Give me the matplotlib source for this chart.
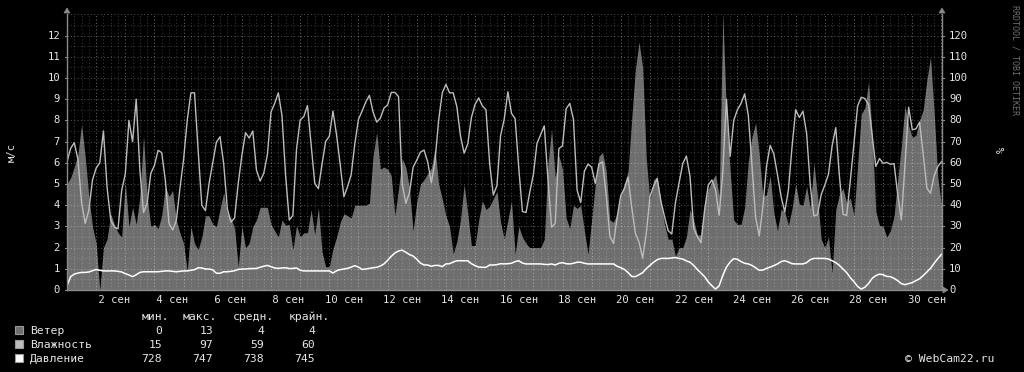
import numpy as np
import matplotlib
matplotlib.use("Agg")
import matplotlib.pyplot as plt
from matplotlib.patches import Rectangle, Polygon
from matplotlib.transforms import blended_transform_factory

# ---------------- data (3-hour steps from 1 Sep 00:00) ----------------
hours = np.arange(0, 721, 3)

wind = [  # m/s
    5.0, 5.3, 5.8, 6.4, 7.8, 6.3, 4.4, 3.0, 2.2, 0.0, 2.0, 2.4, 3.6, 3.1, 2.7, 2.5, 5.1, 3.0, 3.9, 3.1,
    4.4, 7.3, 4.4, 3.0, 3.1, 2.9, 3.5, 4.9, 4.4, 4.7, 3.3, 2.7, 2.2, 0.9, 3.0, 2.2, 1.9, 2.5, 3.5, 3.5, 3.1,
    3.0, 3.8, 4.6, 3.6, 3.4, 2.9, 1.1, 3.0, 2.0, 2.2, 3.0, 3.3, 3.9, 3.9, 3.9, 3.1, 2.8, 2.5, 3.3, 3.05,
    3.1, 1.9, 3.05, 2.5, 2.7, 2.7, 3.8, 2.6, 3.9, 1.8, 1.1, 1.1, 1.95, 2.5, 3.2, 3.6, 3.5, 3.4, 4.0, 4.0,
    4.0, 4.0, 4.1, 6.3, 7.45, 5.7, 5.8, 5.7, 5.4, 3.5, 4.8, 6.2, 5.8, 4.8, 2.8, 4.15, 5.0, 5.2, 5.5, 5.75,
    6.7, 5.0, 4.3, 3.5, 3.0, 1.7, 2.3, 3.3, 5.0, 3.6, 2.1, 2.1, 3.3, 4.2, 3.8, 3.95, 4.3, 4.65, 3.2, 2.4,
    3.3, 4.2, 1.7, 3.0, 2.5, 2.2, 2.0, 2.0, 2.0, 2.0, 2.4, 5.9, 7.6, 5.3, 6.35, 5.7, 3.4, 2.9, 4.0, 3.85,
    4.0, 2.8, 1.7, 3.3, 5.0, 6.3, 6.5, 5.6, 3.3, 3.2, 3.6, 4.45, 5.05, 5.6, 8.1, 10.4, 11.7, 10.5, 6.2, 4.2,
    5.2, 5.35, 4.2, 3.1, 2.4, 2.4, 1.6, 2.0, 2.0, 2.5, 3.8, 3.3, 2.6, 2.6, 4.1, 4.75, 5.15, 5.45, 4.45, 13.0,
    8.3, 5.65, 3.3, 3.1, 3.1, 3.9, 6.1, 7.2, 7.9, 6.4, 4.4, 4.5, 5.4, 3.65, 2.8, 3.8, 3.7, 3.05, 3.85, 5.0,
    4.05, 4.0, 4.9, 3.85, 6.0, 4.4, 2.4, 2.0, 2.5, 0.8, 3.8, 4.5, 4.8, 4.1, 4.35, 3.5, 5.9, 8.3, 8.6, 9.8,
    7.35, 3.7, 3.05, 3.0, 2.5, 2.8, 3.5, 5.2, 6.8, 8.7, 7.75, 7.2, 7.3, 8.0, 8.5, 9.9, 11.0, 8.4, 5.35, 4.0,
]

humidity = [  # %
    60.5, 66.8, 69.5, 61.6, 41.2, 31.4, 37.7, 51.9, 57.5, 60, 75, 48.4, 33, 29.7, 28.9, 46.9, 54.7, 80, 70, 90,
    56.6, 36.5, 40.9, 55, 58.8, 65.9, 64.8, 51.7, 31.4, 28.3, 32.7, 48, 61.6, 80, 93, 93, 65.7, 40, 37.4, 50.3, 60,
    69.7, 72.3, 59.7, 38.4, 32, 34, 50.3, 63.5, 74.2, 71.7, 75, 56.6, 51.4, 55, 63.8, 84, 88, 93, 82.4, 54,
    33, 35.2, 66.5, 80.2, 81.8, 87, 68.5, 50.3, 47.8, 59.4, 70.1, 72.5, 84.4, 73, 59, 44, 48.7, 54.4, 69, 80.5,
    84.4, 88.7, 91.8, 84, 79.2, 81, 85.8, 87.3, 93.2, 93.2, 91.2, 50, 40.9, 46, 57.9, 61.3, 65, 66, 60.4, 50.6,
    60.7, 80, 93, 97, 93, 93, 86.5, 72.6, 64.5, 68.9, 81.4, 87.6, 90.6, 86.8, 85, 59.7, 44.8, 49.2, 72.8, 80.5,
    93.5, 83.3, 80.8, 57.4, 37, 36.6, 46, 54.4, 69.2, 73.3, 77.4, 52.2, 29.6, 31.4, 66.7, 68, 85.5, 88, 80.5, 47.2,
    41.2, 56, 59.4, 57.9, 50.3, 59.4, 60.4, 44.7, 25.2, 22, 34.3, 44.7, 47.8, 53.1, 39, 26.7, 22.6, 15, 26.7, 44,
    49, 52.5, 42, 34.6, 28, 26.4, 41.2, 50.6, 59.6, 63.2, 53.5, 29.2, 25.2, 22.3, 37.7, 49.4, 51.9, 47.2, 35.2, 55.7,
    90, 63, 80, 85, 88, 92.5, 82.4, 58.8, 34.3, 25.5, 39.3, 58.5, 68.2, 64.2, 54.4, 44, 36.8, 47.2, 67.6, 85,
    81.4, 84.3, 73.9, 49.4, 34.9, 35.5, 45, 49.5, 54.6, 68, 76.6, 53.8, 35.7, 35.2, 51.6, 69.2, 86.8, 90.9, 90.3, 87.4,
    73, 58.3, 62, 59.7, 60.2, 59.3, 59.6, 45.1, 33, 59, 86.2, 75.6, 76, 79.2, 64.2, 48.1, 45.6, 53.8, 58.2, 60.5,
]

pressure = [  # mm Hg
    730.0, 734.3, 735.5, 736.0, 736.3, 736.3, 736.5, 737.1, 737.7, 737.3, 737.0, 737.0, 737.0, 737.0, 736.8,
    736.5, 735.7, 735.1, 734.3, 735.2, 736.3, 736.6, 736.6, 736.6, 736.6, 736.6, 736.8, 737.0, 737.0, 736.8,
    736.6, 736.8, 737.0, 737.0, 737.3, 737.6, 738.5, 738.4, 737.9, 737.9, 737.5,
    735.9, 735.9, 736.6, 736.6, 736.8, 737.1, 737.7, 737.9, 737.9, 738.1, 738.1, 738.2, 738.7, 739.2, 739.6,
    739.0, 738.4, 738.2, 738.4, 738.5, 738.1, 738.2, 738.4, 737.3, 737.0, 737.0, 737.0, 737.0, 737.0, 737.0,
    737.0, 737.0, 736.0, 737.1, 737.6, 737.9, 738.2, 738.8, 739.5, 738.8,
    737.7, 737.9, 738.2, 738.5, 738.7, 739.3, 740.3, 742.0, 743.9, 745.5, 746.4, 746.8, 745.8, 744.7, 744.0,
    742.5, 740.7, 739.8, 739.8, 739.2, 739.6, 739.6, 739.0, 740.3, 740.4, 741.2, 741.8, 741.8, 741.8, 741.8,
    740.4, 739.5, 738.8, 738.7, 738.7, 739.8, 739.8, 739.95, 740.4, 740.3,
    740.4, 740.6, 741.4, 741.8, 740.7, 740.3, 740.3, 740.3, 740.3, 740.3, 740.1, 740.0, 740.3, 739.8, 740.6,
    740.9, 740.4, 740.3, 740.6, 741.1, 741.1, 740.6, 740.3, 740.3, 740.3, 740.3, 740.3, 740.3, 740.3, 740.3,
    739.2, 738.5, 737.7, 736.2, 734.4, 734.3, 735.2, 736.2, 738.1, 739.6,
    741.1, 742.3, 742.9, 742.9, 742.9, 743.1, 743.3, 742.9, 742.6, 741.7, 741.1, 739.6, 737.7, 736.0, 734.3,
    731.8, 730.0, 728.4, 730.0, 734.9, 738.8, 741.2, 742.8, 742.5, 741.4, 740.6, 740.3, 739.6, 738.5, 737.3,
    737.4, 738.2, 738.8, 739.5, 740.3, 741.4, 741.8, 741.2, 740.4, 740.3,
    740.3, 740.3, 740.9, 742.3, 742.9, 742.9, 742.9, 742.9, 742.6, 741.8, 740.9, 739.6, 737.9, 736.2, 733.8,
    731.9, 729.7, 728.4, 729.3, 731.1, 733.5, 734.8, 735.5, 735.2, 734.4, 734.3, 733.5, 732.4, 731.0, 730.5,
    731.0, 731.5, 732.4, 733.3, 734.8, 736.5, 738.2, 740.6, 742.8, 744.8,
]

series_names = ["Ветер", "Влажность", "Давление"]
stat_headers = ["мин.", "макс.", "средн.", "крайн."]
stat_min = [0, 15, 728]
stat_max = [13, 97, 747]
stat_avg = [4, 59, 738]
stat_last = [4, 60, 745]
date_labels = [" 2 сен", " 4 сен", " 6 сен", " 8 сен", "10 сен", "12 сен", "14 сен", "16 сен",
               "18 сен", "20 сен", "22 сен", "24 сен", "26 сен", "28 сен", "30 сен"]
left_ticks = list(range(0, 13))
right_ticks = list(range(0, 121, 10))

# ---------------- styling ----------------
W, H = 1024, 372
MONO = "DejaVu Sans Mono"
BG = "black"
WIND_C = "#6e6e6e"
HUM_C = "#bcbcbc"
PRES_C = "#ffffff"
AXIS_C = "#8a8a8a"
TXT_C = "#e6e6e6"

def fx(px):
    return px / W

def fy(py):
    return 1 - py / H

X0, X1, Y0, YTOP = 67, 942, 290, 14.4
DAYS_SPAN = 30.02

fig = plt.figure(figsize=(W / 100, H / 100), dpi=100, facecolor=BG)
ax = fig.add_axes([fx(X0), fy(Y0), (X1 - X0) / W, (Y0 - YTOP) / H])
ax.set_facecolor(BG)
ax.set_xlim(0, DAYS_SPAN)
ax.set_ylim(0, 13)

days = hours / 24.0
ax.fill_between(days, 0, wind, color=WIND_C, lw=0, zorder=1)

# grid
for v in np.arange(0.5, 13.01, 0.5):
    major = abs(v - round(v)) < 1e-6
    ax.axhline(v, color="white", alpha=0.30 if major else 0.20, lw=0.8,
               dashes=(1, 2), zorder=2)
for d in np.arange(0.25, DAYS_SPAN, 0.25):
    major = abs(d - round(d)) < 1e-6
    ax.axvline(d, color="white", alpha=0.38 if major else 0.20, lw=0.8,
               dashes=(1, 2), zorder=2)

ax.plot(days, np.array(humidity) / 10.0, color=HUM_C, lw=1.0, zorder=3)
ax.plot(days, (np.array(pressure) - 728.0) / 10.0, color=PRES_C, lw=1.1, zorder=4)

for s in ["top"]:
    ax.spines[s].set_visible(False)
for s in ["left", "right", "bottom"]:
    ax.spines[s].set_color(AXIS_C)
    ax.spines[s].set_linewidth(1.0)
    ax.spines[s].set_zorder(5)
ax.set_xticks([])
ax.set_yticks([])

# y tick labels
tr_left = blended_transform_factory(fig.transFigure, ax.transData)
for v in left_ticks:
    fig.text(fx(60), 0, str(v), transform=tr_left, ha="right", va="center",
             fontsize=7.6, family=MONO, color=TXT_C)
    ax.text(0, v, "", transform=ax.transData)
# place properly using the blended transform (x fig, y data)
for t in list(fig.texts):
    t.remove()
for v in left_ticks:
    fig.text(fx(60), v, str(v), transform=tr_left, ha="right", va="center",
             fontsize=7.6, family=MONO, color=TXT_C)
for v in right_ticks:
    fig.text(fx(949), v / 10.0, str(v), transform=tr_left, ha="left", va="center",
             fontsize=7.6, family=MONO, color=TXT_C)
# small tick marks
for v in left_ticks:
    ax.plot([-0.07, 0], [v, v], color=AXIS_C, lw=0.8, clip_on=False, zorder=5)
    ax.plot([DAYS_SPAN, DAYS_SPAN + 0.07], [v, v], color=AXIS_C, lw=0.8, clip_on=False, zorder=5)

# x labels (centered at midday)
tr_x = blended_transform_factory(ax.transData, fig.transFigure)
for i, lab in enumerate(date_labels):
    d = 1.5 + 2 * i
    fig.text(d, fy(300), lab, transform=tr_x, ha="center", va="center",
             fontsize=7.6, family=MONO, color=TXT_C)

# arrows
arrow_kw = dict(closed=True, facecolor=AXIS_C, edgecolor=AXIS_C, lw=0.5,
                transform=fig.transFigure, figure=fig)
fig.patches.append(Polygon([(fx(64), fy(13)), (fx(70), fy(13)), (fx(67), fy(8))], **arrow_kw))
fig.patches.append(Polygon([(fx(939), fy(13)), (fx(945), fy(13)), (fx(942), fy(8))], **arrow_kw))
fig.patches.append(Polygon([(fx(943), fy(287)), (fx(943), fy(293)), (fx(948), fy(290))], **arrow_kw))

# axis titles
fig.text(fx(12), fy(152), "м/с", rotation=90, ha="center", va="center",
         fontsize=7.6, family=MONO, color=TXT_C)
fig.text(fx(1002), fy(150), "%", rotation=90, ha="center", va="center",
         fontsize=7.6, family=MONO, color=TXT_C)
fig.text(fx(1015), fy(60), "RRDTOOL / TOBI OETIKER", rotation=270, ha="center", va="center",
         fontsize=6.0, family=MONO, color="#707070")

# legend
LF = 8.2
header_right = [169, 217, 274, 330]
value_right = [162, 213, 264, 315]
for hx, h in zip(header_right, stat_headers):
    fig.text(fx(hx), fy(320), h, ha="right", va="baseline", fontsize=LF, family=MONO, color=TXT_C)

sq_colors = [WIND_C, HUM_C, PRES_C]
for i, name in enumerate(series_names):
    yc = 330 + 14 * i
    fig.patches.append(Rectangle((fx(15), fy(yc + 4)), 8 / W, 8 / H, transform=fig.transFigure,
                                 facecolor=sq_colors[i], edgecolor="#9a9a9a", lw=0.8, figure=fig))
    fig.text(fx(30), fy(yc + 4), name, ha="left", va="baseline", fontsize=LF, family=MONO, color=TXT_C)
    vals = [stat_min[i], stat_max[i], stat_avg[i], stat_last[i]]
    for vx, v in zip(value_right, vals):
        fig.text(fx(vx), fy(yc + 4), str(v), ha="right", va="baseline", fontsize=LF,
                 family=MONO, color=TXT_C)

fig.text(fx(994), fy(362), "© WebCam22.ru", ha="right", va="baseline", fontsize=LF,
         family=MONO, color=TXT_C)

fig.savefig("out.png", dpi=100, facecolor=BG)
